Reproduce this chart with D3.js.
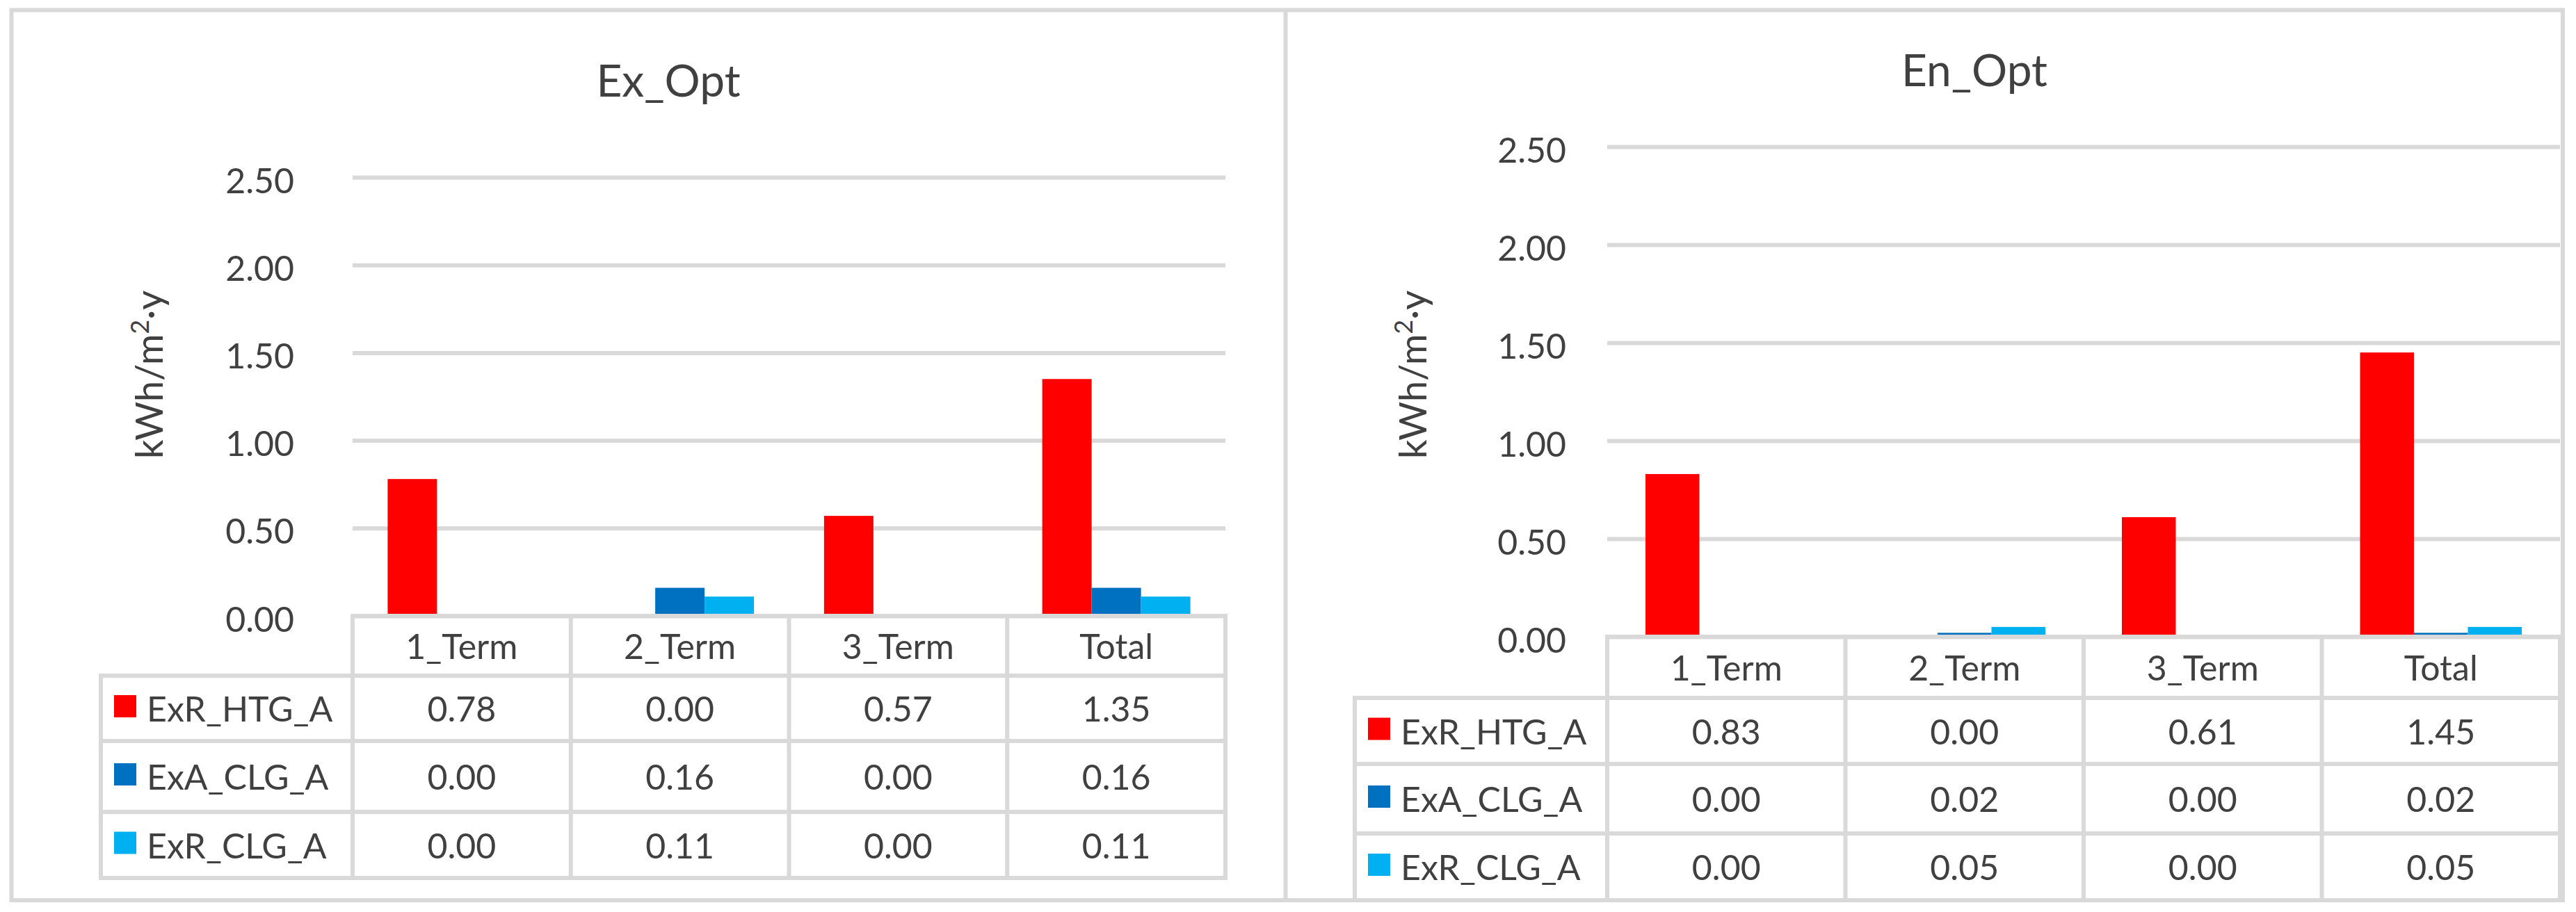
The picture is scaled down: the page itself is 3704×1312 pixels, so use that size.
<!DOCTYPE html>
<html>
<head>
<meta charset="utf-8">
<script src="https://cdn.jsdelivr.net/npm/d3@7"></script>
<style>
  body { margin: 0; background: #fff; }
  svg text { font-family: Lato, 'Open Sans', sans-serif; fill: #404040; }
</style>
</head>
<body>
<div id="chart"></div>
<script>
// chart data
const categories = ['1_Term', '2_Term', '3_Term', 'Total']
const seriesNames = ['ExR_HTG_A', 'ExA_CLG_A', 'ExR_CLG_A']
const seriesColors = ['#ff0000', '#0070c0', '#00b0f0']
const yTicks = [0, 0.5, 1, 1.5, 2, 2.5]

const exOptHtg = [0.78, 0.00, 0.57, 1.35]
const exOptAclg = [0.00, 0.16, 0.00, 0.16]
const exOptRclg = [0.00, 0.11, 0.00, 0.11]

const enOptHtg = [0.83, 0.00, 0.61, 1.45]
const enOptAclg = [0.00, 0.02, 0.00, 0.02]
const enOptRclg = [0.00, 0.05, 0.00, 0.05]

const width = 3704
const height = 1312
const lineColor = '#d9d9d9'
const lineW = 6
const fontSize = 50

const svg = d3.select('#chart')
  .append('svg')
  .attr('width', width)
  .attr('height', height)
  .attr('viewBox', [0, 0, width, height])

svg.append('rect').attr('width', width).attr('height', height).attr('fill', '#fff')

function drawPanel (opt) {
  const { title, values, layout } = opt
  const g = svg.append('g')

  const x0 = d3.scaleBand()
    .domain(categories)
    .range([layout.left, layout.right])
    .padding(0)

  const x1 = d3.scaleBand()
    .domain(seriesNames)
    .range([0, x0.bandwidth()])
    .paddingInner(0)
    .paddingOuter(0.71)

  const y = d3.scaleLinear()
    .domain([0, 2.5])
    .range([layout.zero, layout.top])

  // gridlines + tick labels
  g.append('g')
    .attr('transform', `translate(${layout.left},0)`)
    .call(d3.axisLeft(y)
      .tickValues(yTicks)
      .tickFormat(d3.format('.2f'))
      .tickSize(-(layout.right - layout.left))
      .tickPadding(layout.tickPadding))
    .call(a => a.select('.domain').remove())
    .call(a => a.selectAll('line').attr('stroke', lineColor).attr('stroke-width', lineW))
    .call(a => a.selectAll('text')
      .attr('font-size', fontSize)
      .attr('dy', '0.44em'))

  // bars
  g.append('g')
    .selectAll('g')
    .data(seriesNames)
    .join('g')
    .attr('fill', (d, i) => seriesColors[i])
    .selectAll('rect')
    .data((s, si) => categories.map((c, ci) => ({ s, c, v: values[si][ci] })))
    .join('rect')
    .attr('x', d => x0(d.c) + x1(d.s))
    .attr('y', d => y(d.v))
    .attr('width', x1.bandwidth())
    .attr('height', d => y(0) - y(d.v))

  // data table
  const rows = layout.rows
  const tbl = g.append('g')
    .attr('stroke', lineColor)
    .attr('stroke-width', lineW)
    .attr('stroke-linecap', 'square')

  tbl.append('line')
    .attr('x1', layout.left).attr('x2', layout.right)
    .attr('y1', rows[0]).attr('y2', rows[0])

  tbl.selectAll('.hrow')
    .data(rows.slice(1))
    .join('line')
    .attr('class', 'hrow')
    .attr('x1', layout.legendLeft).attr('x2', layout.right)
    .attr('y1', d => d).attr('y2', d => d)

  tbl.selectAll('.vcol')
    .data(categories.map(c => x0(c)).concat([layout.right]))
    .join('line')
    .attr('class', 'vcol')
    .attr('x1', d => d).attr('x2', d => d)
    .attr('y1', rows[0]).attr('y2', rows[rows.length - 1])

  tbl.append('line')
    .attr('x1', layout.legendLeft).attr('x2', layout.legendLeft)
    .attr('y1', rows[1]).attr('y2', rows[rows.length - 1])

  const mid = i => (rows[i] + rows[i + 1]) / 2

  g.append('g')
    .selectAll('text')
    .data(categories)
    .join('text')
    .attr('x', d => x0(d) + x0.bandwidth() / 2)
    .attr('y', mid(0) + 19)
    .attr('text-anchor', 'middle')
    .attr('font-size', fontSize)
    .text(d => d)

  seriesNames.forEach((s, si) => {
    const cy = mid(si + 1)
    g.append('rect')
      .attr('x', layout.legendLeft + 19)
      .attr('y', cy - 19)
      .attr('width', 32)
      .attr('height', 32)
      .attr('fill', seriesColors[si])
    g.append('text')
      .attr('x', layout.legendLeft + 66)
      .attr('y', cy + 19)
      .attr('font-size', fontSize)
      .text(s)
    g.append('g')
      .selectAll('text')
      .data(values[si])
      .join('text')
      .attr('x', (d, ci) => x0(categories[ci]) + x0.bandwidth() / 2)
      .attr('y', cy + 19)
      .attr('text-anchor', 'middle')
      .attr('font-size', fontSize)
      .text(d => d3.format('.2f')(d))
  })

  // title
  g.append('text')
    .attr('x', layout.titleX)
    .attr('y', layout.titleY)
    .attr('text-anchor', 'middle')
    .attr('font-size', 64)
    .text(title)

  // y axis title
  const yt = g.append('text')
    .attr('transform', `translate(${layout.axisTitleX},539) rotate(-90)`)
    .attr('text-anchor', 'middle')
    .attr('font-size', 54)
  yt.append('tspan').text('kWh/m')
  yt.append('tspan').attr('dy', -20).attr('font-size', 36).text('2')
  yt.append('tspan').attr('dy', 20).text('·y')
}

// outer frame and divider
svg.append('rect')
  .attr('x', 16.5).attr('y', 14.5)
  .attr('width', 3685 - 16.5).attr('height', 1295 - 14.5)
  .attr('fill', 'none')
  .attr('stroke', lineColor)
  .attr('stroke-width', lineW)
svg.append('line')
  .attr('x1', 1848.5).attr('x2', 1848.5)
  .attr('y1', 14.5).attr('y2', 1295)
  .attr('stroke', lineColor)
  .attr('stroke-width', lineW)

drawPanel({
  title: 'Ex_Opt',
  values: [exOptHtg, exOptAclg, exOptRclg],
  layout: {
    left: 507, right: 1762, top: 255, zero: 886, tickPadding: 84,
    legendLeft: 145, rows: [886, 972, 1066, 1168, 1263],
    titleX: 961, titleY: 139, axisTitleX: 234
  }
})

drawPanel({
  title: 'En_Opt',
  values: [enOptHtg, enOptAclg, enOptRclg],
  layout: {
    left: 2311, right: 3681, top: 211, zero: 916, tickPadding: 59,
    legendLeft: 1948, rows: [916, 1004, 1099, 1199, 1295],
    titleX: 2839, titleY: 124, axisTitleX: 2051
  }
})
</script>
</body>
</html>
